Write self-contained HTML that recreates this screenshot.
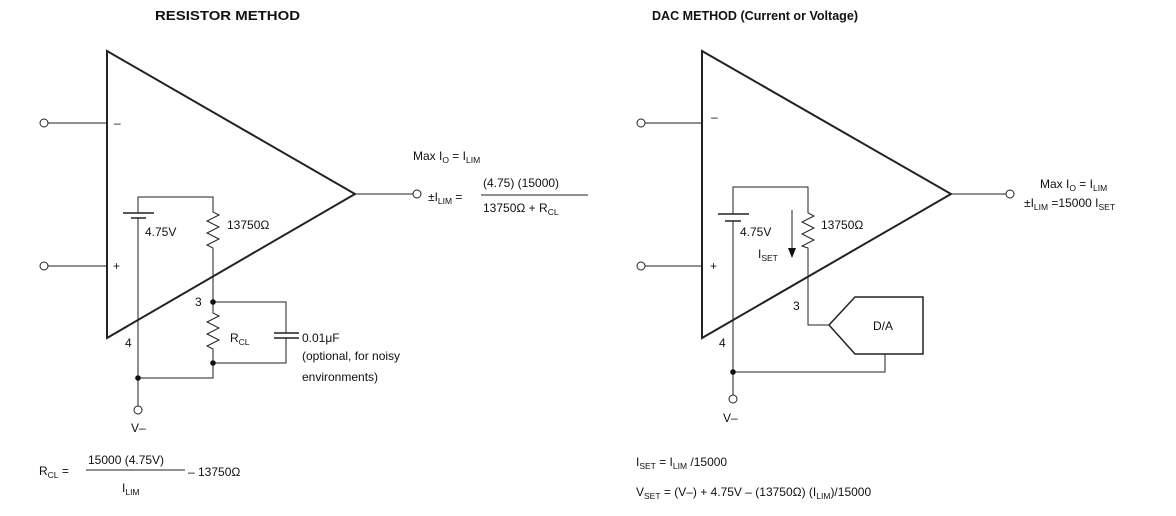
<!DOCTYPE html>
<html><head><meta charset="utf-8"><style>
html,body{margin:0;padding:0;background:#fff;}
svg{display:block;font-family:"Liberation Sans",Arial,sans-serif;}
text{font-size:12px;fill:#111;}
.s{font-size:8.5px;}
</style></head><body>
<svg width="1176" height="516" viewBox="0 0 1176 516" xmlns="http://www.w3.org/2000/svg">
<g fill="none" stroke="#222" stroke-width="1">
<!-- LEFT -->
<polygon points="107,51 107,338 355,194" stroke-width="2"/>
<line x1="48" y1="123" x2="107" y2="123"/>
<circle cx="44" cy="123" r="4"/>
<line x1="48" y1="266" x2="107" y2="266"/>
<circle cx="44" cy="266" r="4"/>
<line x1="355" y1="194" x2="413" y2="194"/>
<circle cx="417" cy="194" r="4"/>
<polyline points="138,213 138,197 213,197 213,209"/>
<line x1="123" y1="213" x2="154" y2="213" stroke-width="1.5"/>
<line x1="131" y1="218" x2="146" y2="218" stroke-width="1.5"/>
<line x1="138" y1="218" x2="138" y2="406"/>
<polyline points="213,209 213,212 219,215 207,221 219,227 207,233 219,239 207,245 213,248 213,302"/>
<polyline points="213,302 286,302 286,333"/>
<line x1="274" y1="333" x2="299" y2="333" stroke-width="1.5"/>
<line x1="274" y1="338" x2="299" y2="338" stroke-width="1.5"/>
<polyline points="286,338 286,363 213,363"/>
<polyline points="213,302 213,313 219,316 207,322 219,328 207,334 219,340 207,346 213,349 213,378 138,378"/>
<circle cx="138" cy="410" r="4"/>
<!-- RIGHT -->
<polygon points="702,51 702,338 951,194" stroke-width="2"/>
<line x1="645" y1="123" x2="702" y2="123"/>
<circle cx="641" cy="123" r="4"/>
<line x1="645" y1="266" x2="702" y2="266"/>
<circle cx="641" cy="266" r="4"/>
<line x1="951" y1="194" x2="1006" y2="194"/>
<circle cx="1010" cy="194" r="4"/>
<polyline points="733,214 733,187 808,187 808,211"/>
<line x1="718" y1="214" x2="749" y2="214" stroke-width="1.5"/>
<line x1="725" y1="221" x2="741" y2="221" stroke-width="1.5"/>
<line x1="733" y1="221" x2="733" y2="395"/>
<polyline points="808,211 808,213 814,216 802,222 814,228 802,234 814,240 802,246 808,248 808,325 829,325"/>
<polygon points="829,325 855,297 923,297 923,354 855,354" stroke-width="1.5"/>
<polyline points="885,354 885,372 733,372"/>
<circle cx="733" cy="399" r="4"/>
<line x1="792" y1="210" x2="792" y2="250"/>
</g>
<polygon points="788,248 796,248 792,258" fill="#111"/>
<g fill="#111">
<circle cx="213" cy="302" r="2.8"/><circle cx="213" cy="363" r="2.8"/><circle cx="138" cy="378" r="2.8"/>
<circle cx="733" cy="372" r="2.8"/>
</g>
<line x1="481" y1="195" x2="588" y2="195" stroke="#222"/>
<line x1="86" y1="470" x2="185" y2="470" stroke="#222"/>

<text x="155" y="20" style="font-weight:bold;font-size:13px" textLength="145" lengthAdjust="spacingAndGlyphs">RESISTOR METHOD</text>
<text x="652" y="20" style="font-weight:bold;font-size:13px" textLength="206" lengthAdjust="spacingAndGlyphs">DAC METHOD (Current or Voltage)</text>

<text x="114" y="127">–</text><text x="113" y="270">+</text>
<text x="145" y="236">4.75V</text>
<text x="227" y="229">13750Ω</text>
<text x="195" y="306">3</text>
<text x="230" y="342">R<tspan class="s" dy="3">CL</tspan></text>
<text x="302" y="342">0.01μF</text>
<text x="302" y="360">(optional, for noisy</text>
<text x="302" y="381">environments)</text>
<text x="125" y="347">4</text>
<text x="131" y="432">V–</text>

<text x="413" y="160">Max I<tspan class="s" dy="3">O</tspan><tspan dy="-3"> = I</tspan><tspan class="s" dy="3">LIM</tspan></text>
<text x="428" y="201">±I<tspan class="s" dy="3">LIM</tspan><tspan dy="-3"> =</tspan></text>
<text x="483" y="187">(4.75) (15000)</text>
<text x="483" y="212">13750Ω + R<tspan class="s" dy="3">CL</tspan></text>

<text x="39" y="475">R<tspan class="s" dy="3">CL</tspan><tspan dy="-3"> =</tspan></text>
<text x="88" y="464">15000 (4.75V)</text>
<text x="122" y="492">I<tspan class="s" dy="3">LIM</tspan></text>
<text x="188" y="476">– 13750Ω</text>

<text x="711" y="121">–</text><text x="710" y="270">+</text>
<text x="740" y="236">4.75V</text>
<text x="821" y="229">13750Ω</text>
<text x="758" y="258">I<tspan class="s" dy="3">SET</tspan></text>
<text x="793" y="310">3</text>
<text x="873" y="330">D/A</text>
<text x="719" y="347">4</text>
<text x="723" y="422">V–</text>

<text x="1040" y="188">Max I<tspan class="s" dy="3">O</tspan><tspan dy="-3"> = I</tspan><tspan class="s" dy="3">LIM</tspan></text>
<text x="1024" y="207">±I<tspan class="s" dy="3">LIM</tspan><tspan dy="-3"> =15000 I</tspan><tspan class="s" dy="3">SET</tspan></text>

<text x="636" y="466">I<tspan class="s" dy="3">SET</tspan><tspan dy="-3"> = I</tspan><tspan class="s" dy="3">LIM</tspan><tspan dy="-3"> /15000</tspan></text>
<text x="636" y="496">V<tspan class="s" dy="3">SET</tspan><tspan dy="-3"> = (V–) + 4.75V – (13750Ω) (I</tspan><tspan class="s" dy="3">LIM</tspan><tspan dy="-3">)/15000</tspan></text>
</svg>
</body></html>
